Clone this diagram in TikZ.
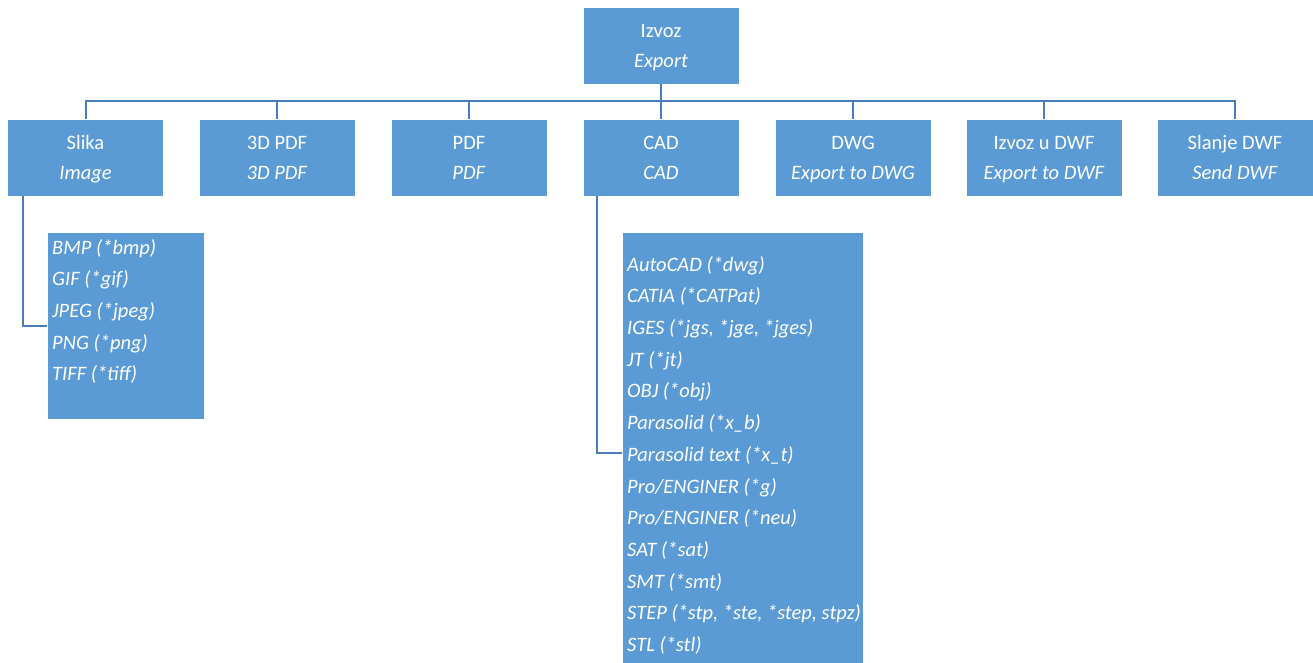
\documentclass[tikz,border=0pt]{standalone}
\usepackage{fontspec}
\setmainfont{Carlito}
\definecolor{boxblue}{HTML}{5B9BD5}
\definecolor{linkblue}{HTML}{4A7EBB}
\newcommand{\hstrut}{\rule[-7.8pt]{0pt}{29.8pt}}
\newcommand{\twolines}[2]{\hstrut#1\\\hstrut\textit{#2}}
\begin{document}
\begin{tikzpicture}[x=1pt,y=-1pt,
  hbox/.style={fill=boxblue,draw=white,line width=0.8pt,text=white,align=center,
    minimum width=156pt,minimum height=77pt,inner sep=0pt,
    font=\fontsize{20.5}{30}\selectfont},
  listbox/.style={fill=boxblue,draw=white,line width=0.8pt,inner sep=0pt,anchor=north west},
  listtext/.style={text=white,align=left,inner sep=0pt,anchor=north west,
    font=\fontsize{20.5}{31.7}\selectfont\itshape},
  link/.style={draw=linkblue,line width=2pt}]
\useasboundingbox (0,0) rectangle (1313,663);
% top
\node[hbox] (top) at (661,45.5) {\twolines{Izvoz}{Export}};
\coordinate (bus) at (0,101);
% children
\node[hbox] (slika) at (85.5,157.5) {\twolines{Slika}{Image}};
\node[hbox] (pdf3) at (277,157.5) {\twolines{3D PDF}{3D PDF}};
\node[hbox] (pdf) at (469,157.5) {\twolines{PDF}{PDF}};
\node[hbox] (cad) at (661,157.5) {\twolines{CAD}{CAD}};
\node[hbox] (dwg) at (853,157.5) {\twolines{DWG}{Export to DWG}};
\node[hbox] (dwf) at (1044,157.5) {\twolines{Izvoz u DWF}{Export to DWF}};
\node[hbox] (send) at (1235,157.5) {\twolines{Slanje DWF}{Send DWF}};
% connectors
\foreach \c in {slika,pdf3,pdf,cad,dwg,dwf,send}
  \draw[link] (top.south) -- (top.south |- bus) -| (\c.north);
% lists
\node[listbox,minimum width=157pt,minimum height=187pt] (slist) at (47,232) {};
\node[listtext] (stext) at (52,239) {BMP (*bmp)\\GIF (*gif)\\JPEG (*jpeg)\\PNG (*png)\\TIFF (*tiff)};
\node[listbox,minimum width=241pt,minimum height=440pt] (clist) at (622,232) {};
\node[listtext] (ctext) at (627,256) {AutoCAD (*dwg)\\CATIA (*CATPat)\\IGES (*jgs, *jge, *jges)\\JT (*jt)\\OBJ (*obj)\\Parasolid (*x\_b)\\Parasolid text (*x\_t)\\Pro/ENGINER (*g)\\Pro/ENGINER (*neu)\\SAT (*sat)\\SMT (*smt)\\STEP (*stp, *ste, *step, stpz)\\STL (*stl)};
\coordinate (cadin) at (622,453);
\draw[link] ([xshift=16pt]slika.south west) |- (slist.west);
\draw[link] ([xshift=14pt]cad.south west) |- (cadin);
\end{tikzpicture}
\end{document}
